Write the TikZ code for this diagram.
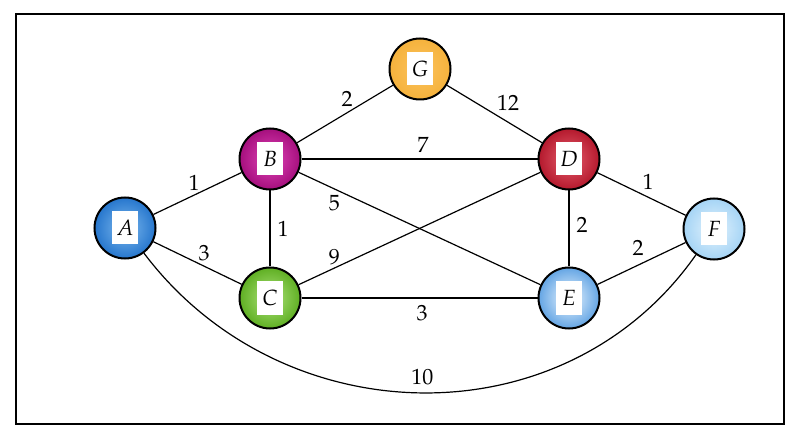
\documentclass[tikz,border=0pt]{standalone}
\usepackage[T1]{fontenc}
\usepackage{mathpazo}
\definecolor{aO}{RGB}{38,118,205}\definecolor{aI}{RGB}{125,185,238}
\definecolor{bO}{RGB}{165,15,125}\definecolor{bI}{RGB}{225,70,185}
\definecolor{cO}{RGB}{95,175,35}\definecolor{cI}{RGB}{175,228,125}
\definecolor{dO}{RGB}{180,25,45}\definecolor{dI}{RGB}{230,95,110}
\definecolor{eO}{RGB}{100,165,228}\definecolor{eI}{RGB}{235,246,255}
\definecolor{fO}{RGB}{165,212,245}\definecolor{fI}{RGB}{228,243,253}
\definecolor{gO}{RGB}{245,178,60}\definecolor{gI}{RGB}{252,195,95}
\tikzset{
  vtx/.style n args={2}{circle, draw=black, line width=1pt, minimum size=30.5pt, inner sep=0pt,
    inner color=#2, outer color=#1,
    font=\fontsize{11}{12}\selectfont,
    path picture={\fill[white] ([shift={(-6.5pt,-8.25pt)}]path picture bounding box.center)
       rectangle ([shift={(6.5pt,8.25pt)}]path picture bounding box.center);}},
  conn/.style={line width=0.6pt},
  wlab/.style={font=\fontsize{11}{12}\selectfont, inner sep=1pt},
}
\begin{document}
\begin{tikzpicture}[x=0.5pt,y=0.5pt]
\useasboundingbox (0,0) rectangle (803,-443);
\draw[line width=1.1pt] (16,-14) rectangle (784,-424);
\node[vtx={aO}{aI}] (A) at (125,-228) {$A$};
\node[vtx={bO}{bI}] (B) at (270,-159) {$B$};
\node[vtx={cO}{cI}] (C) at (270,-298) {$C$};
\node[vtx={dO}{dI}] (D) at (569,-159) {$D$};
\node[vtx={eO}{eI}] (E) at (569,-298) {$E$};
\node[vtx={fO}{fI}] (F) at (714,-229) {$F$};
\node[vtx={gO}{gI}] (G) at (420,-69) {$G$};
\draw[conn] (A) -- node[wlab, midway, shift={(-3.5,10.5)}] (lAB) {1} (B);
\draw[conn] (A) -- node[wlab, midway, shift={(6.5,10)}] (lAC) {3} (C);
\draw[conn] (B) -- node[wlab, midway, shift={(13,0)}] (lBC) {1} (C);
\draw[conn] (B) -- node[wlab, midway, shift={(2,15)}] (lBG) {2} (G);
\draw[conn] (G) -- node[wlab, midway, shift={(13.5,11)}] (lGD) {12} (D);
\draw[conn] (B) -- node[wlab, midway, shift={(3.5,14)}] (lBD) {7} (D);
\draw[conn] (B) -- node[wlab, pos=0.148, shift={(0,-14)}] (lBE) {5} (E);
\draw[conn] (C) -- node[wlab, pos=0.148, shift={(0,11)}] (lCD) {9} (D);
\draw[conn] (C) -- node[wlab, midway, shift={(2.5,-15)}] (lCE) {3} (E);
\draw[conn] (D) -- node[wlab, midway, shift={(6.5,12)}] (lDF) {1} (F);
\draw[conn] (D) -- node[wlab, midway, shift={(13,3.5)}] (lDE) {2} (E);
\draw[conn] (E) -- node[wlab, midway, shift={(-3.5,15.5)}] (lEF) {2} (F);
\draw[conn] (A) to[out=-53, in=-125, looseness=1.06] node[wlab, pos=0.5, shift={(0,16)}] (lAF) {10} (F);
\end{tikzpicture}
\end{document}
